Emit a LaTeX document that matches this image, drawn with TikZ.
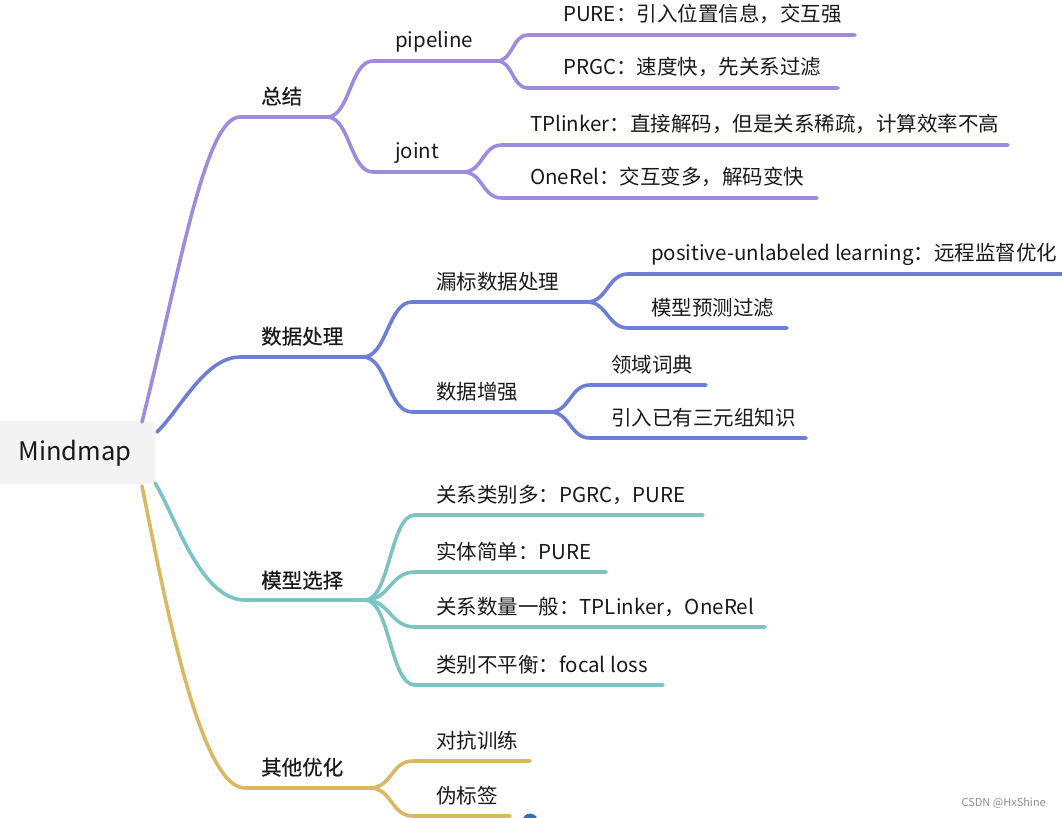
\documentclass[tikz,border=0pt]{standalone}
\usepackage{fontspec}
\setmainfont{Noto Sans CJK SC}
\newfontfamily\midfont{Noto Sans CJK SC}[FakeBold=0.6]
\usetikzlibrary{positioning}
\definecolor{mmpurple}{RGB}{158,139,219}
\definecolor{mmblue}{RGB}{108,126,214}
\definecolor{mmteal}{RGB}{124,195,196}
\definecolor{mmyellow}{RGB}{218,184,98}
\definecolor{mmgrey}{RGB}{243,243,243}
\definecolor{mmdot}{RGB}{52,108,196}

\begin{document}
\begin{tikzpicture}[x=1pt, y=-1pt,
    branch/.style={line width=3.6pt, line cap=round},
    lbl/.style={anchor=base west, inner sep=0pt, text=black!90, font=\fontsize{20.5}{24}\selectfont},
    toplbl/.style={lbl, font=\fontsize{20.5}{24}\midfont}]
    \useasboundingbox (0,0) rectangle (1062,818);

    % Root
    \node[fill=mmgrey, rounded corners=6pt, minimum width=160pt, minimum height=63pt, inner sep=0pt] (root) at (75,452.5) {};
    \node[inner sep=0pt, text=black!90, font=\fontsize{25.5}{30}\selectfont] (rootlbl) at (75,453) {Mindmap};

    % Branch 1 - purple
    \coordinate (s1) at (142,422);
    \coordinate (zj) at (240,117); \coordinate (zjE) at (327,117);
    \coordinate (pl) at (373,61); \coordinate (plE) at (497,61);
    \coordinate (pu) at (528,35); \coordinate (puE) at (855,35);
    \coordinate (pr) at (528,88); \coordinate (prE) at (838,88);
    \coordinate (jt) at (373,172); \coordinate (jtE) at (463,172);
    \coordinate (tp) at (502,145); \coordinate (tpE) at (1008,145);
    \coordinate (on) at (502,198); \coordinate (onE) at (817,198);
    \draw[branch, mmpurple] (s1) .. controls (180,270) and (205,117) .. (zj) -- (zjE);
    \draw[branch, mmpurple] (zjE) .. controls +(23,0) and +(-23,0) .. (pl) -- (plE);
    \draw[branch, mmpurple] (zjE) .. controls +(23,0) and +(-23,0) .. (jt) -- (jtE);
    \draw[branch, mmpurple] (plE) .. controls +(16,0) and +(-16,0) .. (pu) -- (puE);
    \draw[branch, mmpurple] (plE) .. controls +(16,0) and +(-16,0) .. (pr) -- (prE);
    \draw[branch, mmpurple] (jtE) .. controls +(20,0) and +(-20,0) .. (tp) -- (tpE);
    \draw[branch, mmpurple] (jtE) .. controls +(20,0) and +(-20,0) .. (on) -- (onE);
    \node[toplbl] (zongjie) at (261,104) {总结};
    \node[lbl] (pipeline) at (395,48) {pipeline};
    \node[lbl] (pure) at (563,22) {PURE：引入位置信息，交互强};
    \node[lbl] (prgc) at (563,75) {PRGC：速度快，先关系过滤};
    \node[lbl] (joint) at (395,159) {joint};
    \node[lbl] (tplinker) at (530,132) {TPlinker：直接解码，但是关系稀疏，计算效率不高};
    \node[lbl] (onerel) at (530,185) {OneRel：交互变多，解码变快};

    % Branch 2 - blue
    \coordinate (s2) at (157,432);
    \coordinate (sj) at (240,357); \coordinate (sjE) at (363,357);
    \coordinate (lb) at (412,302); \coordinate (lbE) at (587,302);
    \coordinate (pn) at (628,274); \coordinate (pnE) at (1070,274);
    \coordinate (mx) at (628,328); \coordinate (mxE) at (787,328);
    \coordinate (zq) at (412,412); \coordinate (zqE) at (550,412);
    \coordinate (ly) at (590,385); \coordinate (lyE) at (706,385);
    \coordinate (yr) at (590,438); \coordinate (yrE) at (806,438);
    \draw[branch, mmblue] (s2) .. controls (180,410) and (205,357) .. (sj) -- (sjE);
    \draw[branch, mmblue] (sjE) .. controls +(24,0) and +(-24,0) .. (lb) -- (lbE);
    \draw[branch, mmblue] (sjE) .. controls +(24,0) and +(-24,0) .. (zq) -- (zqE);
    \draw[branch, mmblue] (lbE) .. controls +(20,0) and +(-20,0) .. (pn) -- (pnE);
    \draw[branch, mmblue] (lbE) .. controls +(20,0) and +(-20,0) .. (mx) -- (mxE);
    \draw[branch, mmblue] (zqE) .. controls +(20,0) and +(-20,0) .. (ly) -- (lyE);
    \draw[branch, mmblue] (zqE) .. controls +(20,0) and +(-20,0) .. (yr) -- (yrE);
    \node[toplbl] (shuju) at (261,344) {数据处理};
    \node[lbl] (loubiao) at (436,289) {漏标数据处理};
    \node[lbl] (pu) at (651,261) {positive-unlabeled learning：远程监督优化};
    \node[lbl] (moxing) at (651,315) {模型预测过滤};
    \node[lbl] (zengqiang) at (436,399) {数据增强};
    \node[lbl] (lingyu) at (611,372) {领域词典};
    \node[lbl] (yinru) at (611,425) {引入已有三元组知识};

    % Branch 3 - teal
    \coordinate (s3) at (155,483);
    \coordinate (mc) at (245,600); \coordinate (mcE) at (365,600);
    \coordinate (c1) at (415,515); \coordinate (c1E) at (703,515);
    \coordinate (c2) at (415,572); \coordinate (c2E) at (606,572);
    \coordinate (c3) at (415,627); \coordinate (c3E) at (765,627);
    \coordinate (c4) at (415,685); \coordinate (c4E) at (663,685);
    \draw[branch, mmteal] (s3) .. controls (175,515) and (200,600) .. (mc) -- (mcE);
    \draw[branch, mmteal] (mcE) .. controls +(25,0) and +(-25,0) .. (c1) -- (c1E);
    \draw[branch, mmteal] (mcE) .. controls +(25,0) and +(-25,0) .. (c2) -- (c2E);
    \draw[branch, mmteal] (mcE) .. controls +(25,0) and +(-25,0) .. (c3) -- (c3E);
    \draw[branch, mmteal] (mcE) .. controls +(25,0) and +(-25,0) .. (c4) -- (c4E);
    \node[toplbl] (xuanze) at (261,588) {模型选择};
    \node[lbl] (leibie) at (436,502) {关系类别多：PGRC，PURE};
    \node[lbl] (shiti) at (436,559) {实体简单：PURE};
    \node[lbl] (shuliang) at (436,614) {关系数量一般：TPLinker，OneRel};
    \node[lbl] (buping) at (436,672) {类别不平衡：focal loss};

    % Branch 4 - yellow
    \coordinate (s4) at (142,486);
    \coordinate (qt) at (245,788); \coordinate (qtE) at (370,788);
    \coordinate (dk) at (413,761); \coordinate (dkE) at (530,761);
    \coordinate (wb) at (413,816); \coordinate (wbE) at (510,816);
    \draw[branch, mmyellow] (s4) .. controls (165,600) and (200,788) .. (qt) -- (qtE);
    \draw[branch, mmyellow] (qtE) .. controls +(22,0) and +(-22,0) .. (dk) -- (dkE);
    \draw[branch, mmyellow] (qtE) .. controls +(22,0) and +(-22,0) .. (wb) -- (wbE);
    \node[toplbl] (qita) at (261,775) {其他优化};
    \node[lbl] (duikang) at (436,748) {对抗训练};
    \node[lbl] (weibiao) at (436,803) {伪标签};

    % Dot and watermark
    \fill[mmdot] (530,821) circle (7.5);
    \node[anchor=east, inner sep=0pt, text=black!45, font=\fontsize{11}{13}\selectfont] (mark) at (1046,803) {CSDN @HxShine};
\end{tikzpicture}
\end{document}
